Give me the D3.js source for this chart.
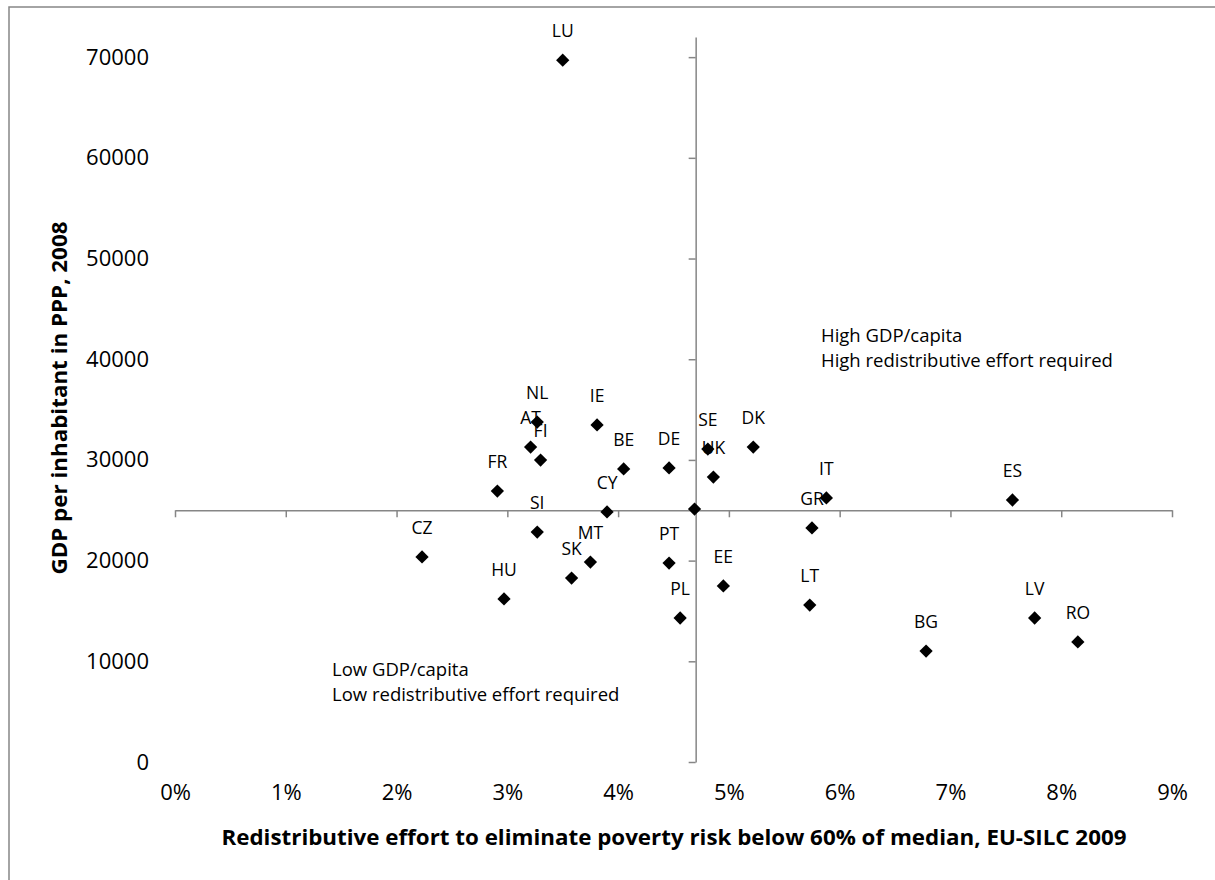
<!DOCTYPE html>
<html>
<head>
<meta charset="utf-8">
<script src="https://cdn.jsdelivr.net/npm/d3@7"></script>
<style>
  body { margin: 0; background: #fff; }
  text { font-family: "Open Sans", "Noto Sans", sans-serif; fill: #000; }
</style>
</head>
<body>
<div id="chart"></div>
<script>
// country codes, redistributive effort (share), GDP per inhabitant in PPP
let countries = ["LU", "NL", "AT", "FI", "IE", "BE", "DE", "SE", "UK", "DK", "FR", "CY", "",
                 "IT", "GR", "ES", "CZ", "HU", "SI", "SK", "MT", "PT", "PL", "EE", "LT", "BG", "LV", "RO"];
let effort = [0.0350, 0.0327, 0.0321, 0.0330, 0.0381, 0.0405, 0.0446, 0.0481, 0.0486, 0.0522, 0.0291, 0.0390, 0.0469,
              0.0588, 0.0575, 0.0756, 0.0223, 0.0297, 0.0327, 0.0358, 0.0375, 0.0446, 0.0456, 0.0495, 0.0573, 0.0678, 0.0776, 0.0815];
let gdp = [69700, 33760, 31280, 29990, 33470, 29100, 29200, 31080, 28300, 31280, 26910, 24830, 25120,
           26220, 23240, 26020, 20360, 16190, 22840, 18270, 19860, 19760, 14300, 17480, 15590, 11020, 14300, 11920];

let xTicks = [0, 0.01, 0.02, 0.03, 0.04, 0.05, 0.06, 0.07, 0.08, 0.09];
let yTicks = [0, 10000, 20000, 30000, 40000, 50000, 60000, 70000];
let crossX = 0.047;
let crossY = 25000;

let width = 1215, height = 880;
let axisColor = "#868686";

let svg = d3.select("#chart")
    .append("svg")
    .attr("width", width)
    .attr("height", height);

// outer chart frame (only the top and left edges fall inside the picture)
svg.append("path")
    .attr("d", "M9,880 V7 H1215")
    .attr("fill", "none")
    .attr("stroke", axisColor)
    .attr("stroke-width", 1.5);

let x = d3.scaleLinear().domain([0, 0.09]).range([175, 1172]);
let y = d3.scaleLinear().domain([0, 72000]).range([762, 37]);

// horizontal axis line crossing at 25000
let xAxisLine = svg.append("g")
    .attr("transform", `translate(0, ${y(crossY)})`)
    .call(d3.axisBottom(x).tickValues(xTicks).tickSize(7).tickSizeOuter(0).tickFormat(""));

// vertical axis line crossing at 4.7%
let yAxisLine = svg.append("g")
    .attr("transform", `translate(${x(crossX)}, 0)`)
    .call(d3.axisLeft(y).tickValues(yTicks).tickSize(7).tickSizeOuter(0).tickFormat(""));

[xAxisLine, yAxisLine].forEach(function(g) {
    g.selectAll("path, line").attr("stroke", axisColor).attr("stroke-width", 1.5);
});

// tick labels sit at the low edge of the plot
let xLabels = svg.append("g")
    .attr("transform", `translate(0, ${y(0) + 22})`)
    .call(d3.axisBottom(x).tickValues(xTicks).tickSize(0).tickFormat(d3.format(".0%")));
xLabels.select(".domain").remove();
xLabels.selectAll("text").style("font-size", "22px").attr("dy", "0.71em").attr("y", 0);

let yLabels = svg.append("g")
    .attr("transform", `translate(149, 0)`)
    .call(d3.axisLeft(y).tickValues(yTicks).tickSize(0).tickFormat(d3.format("d")));
yLabels.select(".domain").remove();
yLabels.selectAll("text").style("font-size", "22px").attr("x", 0);

// axis titles
svg.append("text")
    .attr("x", 674)
    .attr("y", 845)
    .attr("text-anchor", "middle")
    .attr("textLength", 905)
    .attr("lengthAdjust", "spacingAndGlyphs")
    .style("font-size", "20.5px")
    .style("font-weight", "bold")
    .text("Redistributive effort to eliminate poverty risk below 60% of median, EU-SILC 2009");

svg.append("text")
    .attr("transform", `translate(67, 398) rotate(-90)`)
    .attr("text-anchor", "middle")
    .attr("textLength", 353)
    .attr("lengthAdjust", "spacingAndGlyphs")
    .style("font-size", "20.5px")
    .style("font-weight", "bold")
    .text("GDP per inhabitant in PPP, 2008");

// quadrant notes
let notes = [
    { x: 821, y: 342, lines: ["High GDP/capita", "High redistributive effort required"] },
    { x: 332, y: 676, lines: ["Low GDP/capita", "Low redistributive effort required"] }
];
notes.forEach(function(n) {
    let t = svg.append("text")
        .attr("x", n.x)
        .attr("y", n.y)
        .style("font-size", "18.5px");
    n.lines.forEach(function(l, i) {
        t.append("tspan").attr("x", n.x).attr("dy", i == 0 ? 0 : 25).text(l);
    });
});

let data = countries.map(function(c, i) { return { name: c, x: effort[i], y: gdp[i] }; });

// diamond markers
svg.append("g").selectAll("path")
    .data(data)
    .enter()
    .append("path")
    .attr("d", d3.symbol(d3.symbolSquare, 88))
    .attr("transform", function(d) { return `translate(${x(d.x)}, ${y(d.y)}) rotate(45)`; })
    .attr("fill", "#000");

// data labels above points
svg.append("g").selectAll("text")
    .data(data)
    .enter()
    .append("text")
    .attr("x", function(d) { return x(d.x); })
    .attr("y", function(d) { return y(d.y) - 23; })
    .attr("text-anchor", "middle")
    .style("font-size", "17.5px")
    .text(function(d) { return d.name; });
</script>
</body>
</html>
